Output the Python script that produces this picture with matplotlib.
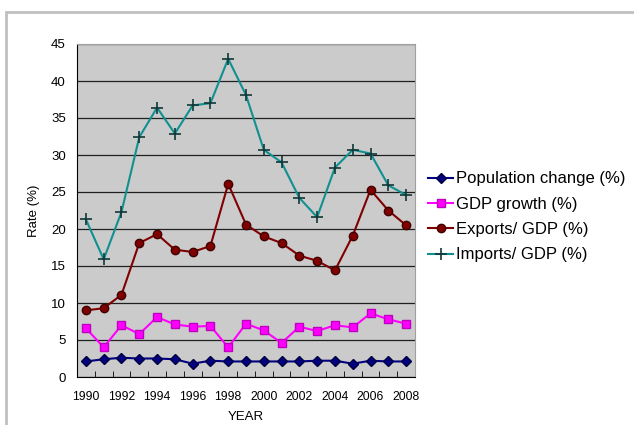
import matplotlib.pyplot as plt
import matplotlib.patches as patches
import numpy as np

plt.rcParams['font.family'] = ['Liberation Sans', 'DejaVu Sans']

############### Data ################
years = list(range(1990, 2009))

population = [2.1, 2.4, 2.6, 2.5, 2.5, 2.4, 1.8, 2.2, 2.1, 2.1,
              2.1, 2.1, 2.1, 2.2, 2.2, 1.8, 2.2, 2.1, 2.1]
gdp_growth = [6.6, 4.0, 7.0, 5.8, 8.1, 7.1, 6.8, 6.9, 4.0, 7.2,
              6.3, 4.6, 6.8, 6.2, 7.0, 6.7, 8.6, 7.8, 7.2]
exports_gdp = [9.0, 9.3, 11.1, 18.1, 19.3, 17.2, 16.9, 17.7, 26.1, 20.6,
               19.0, 18.1, 16.4, 15.7, 14.4, 19.1, 25.3, 22.5, 20.5]
imports_gdp = [21.3, 15.9, 22.3, 32.4, 36.4, 32.9, 36.7, 37.0, 43.0, 38.1,
               30.7, 29.0, 24.2, 21.6, 28.3, 30.7, 30.2, 25.9, 24.6]

############### Plot ################
fig = plt.figure(figsize=(6.34, 4.25), dpi=100)

# chart area border
fig.add_artist(patches.Rectangle((6 / 634, -0.1), 1.0, (425 - 12) / 425 + 0.1,
                                 transform=fig.transFigure, fill=False,
                                 edgecolor='#c0c0c0', linewidth=2.0))

ax = fig.add_axes([77 / 634, 48 / 425, 338 / 634, 333 / 425])
ax.set_facecolor('#cbcbcb')

x = np.arange(len(years))
ax.plot(x, population, color='#000080', marker='D', markersize=5,
        mec='#000040', lw=1.5, label='Population change (%)')
ax.plot(x, gdp_growth, color='#ff00ff', marker='s', markersize=6,
        mec='#c000c0', lw=1.5, label='GDP growth (%)')
ax.plot(x, exports_gdp, color='#800000', marker='o', markersize=6,
        mec='#400000', lw=1.5, label='Exports/ GDP (%)')
ax.plot(x, imports_gdp, color='#109090', marker='+', markersize=8,
        mec='#103838', mew=1.2, lw=1.5, label='Imports/ GDP (%)')

ax.set_xlim(-0.5, len(years) - 0.5)
ax.set_ylim(0, 45)
ax.set_yticks(range(0, 46, 5))
ax.yaxis.grid(True, color='#202020', linewidth=0.9)
ax.set_axisbelow(True)

# year labels on every other category, ticks between categories
ax.set_xticks(x[::2])
ax.set_xticklabels([str(y) for y in years[::2]], fontsize=8.7)
ax.set_xticks(np.arange(-0.5, len(years), 1), minor=True)
ax.tick_params(axis='x', which='major', length=0, pad=10)
ax.tick_params(axis='x', which='minor', direction='in', length=4, color='k')
ax.tick_params(axis='y', length=0, labelsize=9.5, pad=8)

for side in ['top', 'right']:
    ax.spines[side].set_color('#a0a0a0')
for side in ['left', 'bottom']:
    ax.spines[side].set_color('k')

ax.set_ylabel('Rate (%)', fontsize=9.5, labelpad=8)
ax.set_xlabel('YEAR', fontsize=9.5, labelpad=6)

ax.legend(loc='center left', bbox_to_anchor=(428 / 634, 208 / 425),
          bbox_transform=fig.transFigure, frameon=False,
          fontsize=12, handlelength=1.5, handletextpad=0.15,
          labelspacing=0.62, borderaxespad=0, borderpad=0)

plt.savefig('out.png', dpi=100)
